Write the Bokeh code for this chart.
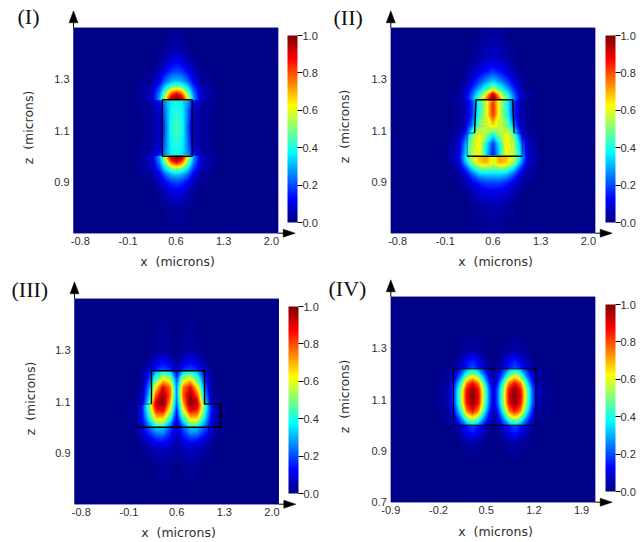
import numpy as np
from bokeh.core.properties import value
from bokeh.embed import file_html
from bokeh.layouts import column, row
from bokeh.models import ColorBar, FixedTicker, LinearAxis, LinearColorMapper, PrintfTickFormatter, Range1d
from bokeh.plotting import figure
from bokeh.resources import INLINE

x_ticks_abc = [-0.8, -0.1, 0.6, 1.3, 2.0]
x_ticks_d = [-0.9, -0.2, 0.5, 1.2, 1.9]
z_ticks_abc = [0.9, 1.1, 1.3]
z_ticks_d = [0.7, 0.9, 1.1, 1.3]
bar_ticks = [0.0, 0.2, 0.4, 0.6, 0.8, 1.0]

# Field values (rows bottom to top)
x1 = [-0.9, 0.0, 0.25, 0.37, 0.45, 0.53, 0.61, 0.69, 0.77, 0.85, 0.97, 1.22, 2.1]
z1 = [0.70, 0.80, 0.86, 0.90, 0.93, 0.95, 0.97, 0.985, 0.998, 1.002, 1.04, 1.11, 1.18, 1.218, 1.222, 1.235, 1.25, 1.27, 1.29, 1.33, 1.37, 1.42, 1.50]
f1 = [
 [.01,.01,.01,.01,.01,.01,.01,.01,.01,.01,.01,.01,.01],
 [.01,.01,.01,.01,.02,.03,.03,.03,.02,.01,.01,.01,.01],
 [.01,.01,.01,.03,.06,.09,.10,.09,.06,.03,.01,.01,.01],
 [.01,.01,.02,.07,.13,.18,.20,.18,.13,.07,.02,.01,.01],
 [.01,.01,.03,.13,.24,.31,.33,.31,.24,.13,.03,.01,.01],
 [.01,.01,.05,.19,.35,.46,.50,.46,.35,.19,.05,.01,.01],
 [.01,.01,.06,.25,.47,.70,.78,.70,.47,.25,.06,.01,.01],
 [.01,.01,.07,.28,.55,.85,.97,.85,.55,.28,.07,.01,.01],
 [.01,.01,.07,.30,.60,.92,1.0,.92,.60,.30,.07,.01,.01],
 [.01,.01,.05,.16,.28,.36,.38,.36,.28,.16,.05,.01,.01],
 [.01,.01,.03,.09,.25,.38,.41,.38,.25,.09,.03,.01,.01],
 [.01,.01,.02,.07,.22,.40,.45,.40,.22,.07,.02,.01,.01],
 [.01,.01,.03,.09,.25,.38,.41,.38,.25,.09,.03,.01,.01],
 [.01,.01,.05,.16,.29,.36,.38,.36,.29,.16,.05,.01,.01],
 [.01,.01,.07,.30,.60,.92,1.0,.92,.60,.30,.07,.01,.01],
 [.01,.01,.07,.28,.55,.85,.97,.85,.55,.28,.07,.01,.01],
 [.01,.01,.06,.25,.47,.70,.78,.70,.47,.25,.06,.01,.01],
 [.01,.01,.05,.19,.35,.46,.50,.46,.35,.19,.05,.01,.01],
 [.01,.01,.03,.13,.24,.31,.33,.31,.24,.13,.03,.01,.01],
 [.01,.01,.02,.07,.13,.18,.20,.18,.13,.07,.02,.01,.01],
 [.01,.01,.01,.03,.06,.09,.11,.09,.06,.03,.01,.01,.01],
 [.01,.01,.01,.01,.02,.04,.04,.04,.02,.01,.01,.01,.01],
 [.01,.01,.01,.01,.01,.01,.02,.01,.01,.01,.01,.01,.01],
]

x2 = [-0.9, -0.1, 0.1, 0.2, 0.3, 0.4, 0.5, 0.6, 0.7, 0.8, 0.9, 1.0, 1.1, 1.3, 2.1]
z2 = [0.70, 0.80, 0.86, 0.90, 0.93, 0.955, 0.975, 0.998, 1.002, 1.05, 1.085, 1.12, 1.16, 1.20, 1.218, 1.222, 1.24, 1.26, 1.29, 1.33, 1.38, 1.50]
f2 = [
 [.01,.01,.01,.01,.01,.01,.02,.02,.02,.01,.01,.01,.01,.01,.01],
 [.01,.01,.01,.01,.02,.03,.04,.04,.04,.03,.02,.01,.01,.01,.01],
 [.01,.01,.01,.02,.05,.08,.10,.11,.10,.08,.05,.02,.01,.01,.01],
 [.01,.01,.02,.05,.11,.17,.20,.20,.20,.17,.11,.05,.02,.01,.01],
 [.01,.01,.03,.11,.23,.32,.34,.34,.34,.32,.23,.11,.03,.01,.01],
 [.01,.01,.05,.20,.38,.50,.52,.50,.52,.50,.38,.20,.05,.01,.01],
 [.01,.01,.08,.30,.54,.66,.70,.60,.70,.66,.54,.30,.08,.01,.01],
 [.01,.01,.10,.36,.58,.68,.72,.56,.72,.68,.58,.36,.10,.01,.01],
 [.01,.01,.08,.34,.56,.62,.34,.12,.34,.62,.56,.34,.08,.01,.01],
 [.01,.01,.07,.28,.56,.64,.38,.18,.38,.64,.56,.28,.07,.01,.01],
 [.01,.01,.04,.17,.46,.62,.54,.38,.54,.62,.46,.17,.04,.01,.01],
 [.01,.01,.02,.07,.26,.50,.58,.65,.58,.50,.26,.07,.02,.01,.01],
 [.01,.01,.02,.05,.18,.42,.58,.82,.58,.42,.18,.05,.02,.01,.01],
 [.01,.01,.02,.05,.18,.40,.56,.84,.56,.40,.18,.05,.02,.01,.01],
 [.01,.01,.02,.06,.20,.40,.58,.78,.58,.40,.20,.06,.02,.01,.01],
 [.01,.01,.03,.09,.26,.48,.74,1.0,.74,.48,.26,.09,.03,.01,.01],
 [.01,.01,.03,.08,.24,.42,.62,.93,.62,.42,.24,.08,.03,.01,.01],
 [.01,.01,.02,.06,.18,.32,.44,.58,.44,.32,.18,.06,.02,.01,.01],
 [.01,.01,.01,.04,.11,.20,.28,.34,.28,.20,.11,.04,.01,.01,.01],
 [.01,.01,.01,.02,.05,.10,.14,.18,.14,.10,.05,.02,.01,.01,.01],
 [.01,.01,.01,.01,.02,.04,.06,.07,.06,.04,.02,.01,.01,.01,.01],
 [.01,.01,.01,.01,.01,.01,.02,.02,.02,.01,.01,.01,.01,.01,.01],
]

x3 = [-0.9, -0.2, 0.0, 0.1, 0.2, 0.3, 0.4, 0.5, 0.6, 0.7, 0.8, 0.9, 1.0, 1.1, 1.2, 1.4, 2.1]
z3 = [0.70, 0.85, 0.92, 0.96, 0.98, 0.998, 1.002, 1.035, 1.065, 1.085, 1.095, 1.125, 1.155, 1.19, 1.218, 1.222, 1.25, 1.30, 1.50]
f3 = [
 [.01,.01,.01,.01,.01,.01,.01,.01,.01,.01,.01,.01,.01,.01,.01,.01,.01],
 [.01,.01,.01,.01,.01,.02,.02,.02,.01,.02,.02,.02,.01,.01,.01,.01,.01],
 [.01,.01,.01,.02,.04,.06,.07,.06,.03,.06,.07,.06,.04,.02,.01,.01,.01],
 [.01,.01,.01,.05,.12,.18,.19,.14,.05,.14,.19,.18,.12,.05,.01,.01,.01],
 [.01,.01,.02,.08,.18,.27,.28,.17,.05,.17,.28,.27,.18,.08,.02,.01,.01],
 [.01,.01,.02,.09,.22,.32,.32,.21,.05,.21,.32,.32,.22,.09,.02,.01,.01],
 [.01,.01,.02,.10,.25,.40,.40,.23,.05,.23,.40,.40,.25,.10,.02,.01,.01],
 [.01,.01,.03,.13,.38,.66,.66,.42,.08,.42,.66,.66,.38,.13,.03,.01,.01],
 [.01,.01,.03,.15,.46,.84,.88,.58,.12,.58,.88,.84,.46,.15,.03,.01,.01],
 [.01,.01,.03,.15,.48,.92,.98,.66,.16,.66,.98,.92,.48,.15,.03,.01,.01],
 [.01,.01,.02,.08,.40,.92,1.0,.70,.18,.70,1.0,.92,.40,.08,.02,.01,.01],
 [.01,.01,.01,.05,.32,.78,.98,.78,.20,.78,.98,.78,.32,.05,.01,.01,.01],
 [.01,.01,.01,.04,.26,.64,.88,.76,.20,.76,.88,.64,.26,.04,.01,.01,.01],
 [.01,.01,.01,.03,.18,.44,.60,.54,.16,.54,.60,.44,.18,.03,.01,.01,.01],
 [.01,.01,.01,.02,.12,.30,.36,.32,.09,.32,.36,.30,.12,.02,.01,.01,.01],
 [.01,.01,.01,.02,.07,.16,.20,.17,.05,.17,.20,.16,.07,.02,.01,.01,.01],
 [.01,.01,.01,.01,.04,.10,.13,.10,.03,.10,.13,.10,.04,.01,.01,.01,.01],
 [.01,.01,.01,.01,.01,.02,.03,.02,.01,.02,.03,.02,.01,.01,.01,.01,.01],
 [.01,.01,.01,.01,.01,.01,.01,.01,.01,.01,.01,.01,.01,.01,.01,.01,.01],
]

x4 = [-0.9, -0.3, -0.05, 0.05, 0.14, 0.22, 0.30, 0.38, 0.46, 0.54, 0.61, 0.68, 0.76, 0.84, 0.92, 1.0, 1.08, 1.17, 1.27, 1.5, 2.1]
z4 = [0.70, 0.85, 0.93, 0.975, 0.998, 1.002, 1.028, 1.054, 1.085, 1.112, 1.14, 1.165, 1.19, 1.218, 1.222, 1.25, 1.29, 1.37, 1.50]
f4 = [
 [.01,.01,.01,.01,.01,.01,.01,.01,.01,.01,.01,.01,.01,.01,.01,.01,.01,.01,.01,.01,.01],
 [.01,.01,.01,.01,.01,.01,.01,.01,.01,.01,.01,.01,.01,.01,.01,.01,.01,.01,.01,.01,.01],
 [.01,.01,.01,.01,.02,.03,.04,.03,.02,.01,.01,.01,.02,.03,.04,.03,.02,.01,.01,.01,.01],
 [.01,.01,.01,.02,.06,.12,.16,.12,.06,.02,.01,.02,.06,.12,.16,.12,.06,.02,.01,.01,.01],
 [.01,.01,.01,.03,.08,.15,.20,.15,.08,.03,.01,.03,.08,.15,.20,.15,.08,.03,.01,.01,.01],
 [.01,.01,.02,.07,.17,.28,.33,.28,.17,.07,.02,.07,.17,.28,.33,.28,.17,.07,.02,.01,.01],
 [.01,.01,.02,.11,.28,.50,.60,.50,.28,.11,.02,.11,.28,.50,.60,.50,.28,.11,.02,.01,.01],
 [.01,.01,.03,.17,.42,.74,.85,.74,.42,.17,.04,.17,.42,.74,.85,.74,.42,.17,.03,.01,.01],
 [.01,.01,.04,.23,.53,.87,.97,.87,.53,.23,.06,.23,.53,.87,.97,.87,.53,.23,.04,.01,.01],
 [.01,.01,.04,.24,.55,.90,1.0,.90,.55,.24,.06,.24,.55,.90,1.0,.90,.55,.24,.04,.01,.01],
 [.01,.01,.04,.23,.53,.87,.97,.87,.53,.23,.06,.23,.53,.87,.97,.87,.53,.23,.04,.01,.01],
 [.01,.01,.03,.17,.42,.74,.85,.74,.42,.17,.04,.17,.42,.74,.85,.74,.42,.17,.03,.01,.01],
 [.01,.01,.02,.11,.28,.50,.60,.50,.28,.11,.02,.11,.28,.50,.60,.50,.28,.11,.02,.01,.01],
 [.01,.01,.02,.07,.17,.28,.33,.28,.17,.07,.02,.07,.17,.28,.33,.28,.17,.07,.02,.01,.01],
 [.01,.01,.01,.03,.08,.15,.20,.15,.08,.03,.01,.03,.08,.15,.20,.15,.08,.03,.01,.01,.01],
 [.01,.01,.01,.02,.06,.12,.16,.12,.06,.02,.01,.02,.06,.12,.16,.12,.06,.02,.01,.01,.01],
 [.01,.01,.01,.01,.02,.03,.04,.03,.02,.01,.01,.01,.02,.03,.04,.03,.02,.01,.01,.01,.01],
 [.01,.01,.01,.01,.01,.01,.01,.01,.01,.01,.01,.01,.01,.01,.01,.01,.01,.01,.01,.01,.01],
 [.01,.01,.01,.01,.01,.01,.01,.01,.01,.01,.01,.01,.01,.01,.01,.01,.01,.01,.01,.01,.01],
]

# Waveguide outlines, microns: firm strokes, then the faint shelf edges
outline1 = [([0.40, 0.84, 0.84, 0.40, 0.40], [1.22, 1.22, 1.0, 1.0, 1.22])]
outline2 = [([0.22, 1.03], [1.0, 1.0]), ([0.33, 0.35, 0.89, 0.91], [1.09, 1.22, 1.22, 1.09])]
shelf2 = [([0.33, 0.22, 0.22], [1.09, 1.09, 1.0]), ([0.91, 1.03, 1.03], [1.09, 1.09, 1.0])]
outline3 = [([0.01, 1.25, 1.25], [1.0, 1.0, 1.09]), ([0.23, 0.23, 1.01, 1.01, 1.25], [1.09, 1.22, 1.22, 1.09, 1.09])]
shelf3 = [([0.23, 0.01, 0.01], [1.09, 1.09, 1.0])]
outline4 = [([0.02, 1.23, 1.23, 0.02, 0.02], [1.0, 1.0, 1.22, 1.22, 1.0])]


def jet(t):
    r = np.clip(1.5 - np.abs(4 * t - 3), 0, 1)
    g = np.clip(1.5 - np.abs(4 * t - 2), 0, 1)
    b = np.clip(1.5 - np.abs(4 * t - 1), 0, 1)
    return "#%02x%02x%02x" % (int(r * 255), int(g * 255), int(b * 255))


LEVELS = np.linspace(0, 1.001, 65)
BANDS = [jet(t) for t in (LEVELS[:-1] + LEVELS[1:]) / 2]
LINES = [jet(t) for t in LEVELS]
BAR = [jet(t) for t in np.linspace(0, 1, 256)]
XR = (-0.9, 2.1)
ZR = (0.7, 1.5)
INK = "#2e2e2e"


def panel(name, x, z, f, strokes, faint, xt, zt, origin, size, frame, bar, label_xy, xlab_xy, zlab_xy, stroke_w=1.5):
    ox, oy = origin
    W, H = size
    L, R, T, B = frame
    sx = (XR[1] - XR[0]) / (R - L)
    sz = (ZR[1] - ZR[0]) / (B - T)
    X = lambda px: XR[0] + (px - L) * sx
    Z = lambda py: ZR[1] + (T - py) * sz
    p = figure(width=W, height=H, output_backend="svg", toolbar_location=None, tools="",
               x_range=Range1d(X(ox), X(ox + W)), y_range=Range1d(Z(oy + H), Z(oy)),
               x_axis_type=None, y_axis_type=None,
               min_border=0, outline_line_color=None, background_fill_color="white", border_fill_color="white")
    p.grid.visible = False
    p.quad(left=[XR[0]], right=[XR[1]], bottom=[ZR[0]], top=[ZR[1]], fill_color=BANDS[0], line_color=None)
    p.contour(x, z, np.array(f), levels=LEVELS, fill_color=BANDS, line_color=LINES, line_width=1.0)
    for xs, ys in strokes:
        p.line(xs, ys, line_color="black", line_width=stroke_w)
    for xs, ys in faint:
        p.line(xs, ys, line_color="#000033", line_alpha=0.55, line_width=1)

    xax = LinearAxis(fixed_location=ZR[0])
    zax = LinearAxis(fixed_location=XR[0])
    p.add_layout(xax, "below")
    p.add_layout(zax, "left")
    for ax, ticks in ((xax, xt), (zax, zt)):
        ax.ticker = FixedTicker(ticks=ticks)
        ax.formatter = PrintfTickFormatter(format="%.1f")
        ax.axis_line_color = None
        ax.major_tick_line_color = None
        ax.minor_tick_line_color = None
        ax.major_tick_out = 0
        ax.major_tick_in = 0
        ax.major_label_text_font = "Liberation Sans"
        ax.major_label_text_font_size = "11px"
        ax.major_label_text_color = INK
        ax.major_label_standoff = 4

    # axis titles, centred where the reference has them
    p.text([X(xlab_xy[0])], [Z(xlab_xy[1])], text=["x\u00a0\u00a0(microns)"], text_font=value("DejaVu Sans"),
           text_font_size="12.5px", text_color=INK, text_align="center", text_baseline="middle")
    p.text([X(zlab_xy[0])], [Z(zlab_xy[1])], text=["z\u00a0\u00a0(microns)"], text_font=value("DejaVu Sans"),
           text_font_size="12.5px", text_color=INK, text_align="center", text_baseline="middle", angle=np.pi / 2)

    # axis arrow heads with their short shafts
    p.line([XR[0], XR[0]], [ZR[1], Z(T - 6)], line_color="black", line_width=1)
    p.line([XR[1], X(R + 6)], [ZR[0], ZR[0]], line_color="black", line_width=1)
    p.patch([X(L - 4.5), X(L), X(L + 4.5)], [Z(T - 5), Z(T - 17), Z(T - 5)], fill_color="black", line_color="black", line_width=0.5)
    p.patch([X(R + 5), X(R + 17), X(R + 5)], [Z(B - 4), Z(B), Z(B + 4)], fill_color="black", line_color="black", line_width=0.5)

    p.text([X(label_xy[0])], [Z(label_xy[1])], text=[name], text_font=value("Liberation Serif"), text_font_size="22px",
           text_color="#111111", text_align="left", text_baseline="middle")

    bl, bt, bb = bar
    mapper = LinearColorMapper(palette=BAR, low=0, high=1)
    cb = ColorBar(color_mapper=mapper, width=10, height=int(bb - bt), padding=0,
                  location=(int(bl - ox), int(oy + H - bb)), ticker=FixedTicker(ticks=bar_ticks),
                  formatter=PrintfTickFormatter(format="%.1f"),
                  major_tick_in=0, major_tick_out=5, major_tick_line_color="black", minor_tick_line_color=None,
                  major_label_text_font="Liberation Sans", major_label_text_font_size="11px",
                  major_label_text_color=INK, label_standoff=0,
                  bar_line_color=None, background_fill_alpha=0, border_line_color=None)
    p.add_layout(cb, "center")
    return p


a = panel("(I)", x1, z1, f1, outline1, [], x_ticks_abc, z_ticks_abc, (0, 0), (322, 271),
          (73, 277.7, 27.3, 232.7), (287, 35, 222), (17, 16), (177, 261), (28, 127))
b = panel("(II)", x2, z2, f2, outline2, shelf2, x_ticks_abc, z_ticks_abc, (322, 0), (318, 271),
          (390.3, 594.7, 27.3, 232.7), (605, 35, 222), (333, 17), (495, 261), (344, 126))
c = panel("(III)", x3, z3, f3, outline3, shelf3, x_ticks_abc, z_ticks_abc, (0, 271), (322, 269),
          (74, 278.3, 298.3, 503.7), (288, 306, 493), (11, 289), (178, 532), (30, 398))
d = panel("(IV)", x4, z4, f4, outline4, [], x_ticks_d, z_ticks_d, (322, 271), (318, 269),
          (390.3, 594.7, 296.3, 501.7), (605, 304, 491), (328, 288), (495, 531), (344, 396), stroke_w=1.1)

page = column(row(a, b, spacing=0), row(c, d, spacing=0), spacing=0)
open("out.html", "w").write(file_html(page, INLINE))
